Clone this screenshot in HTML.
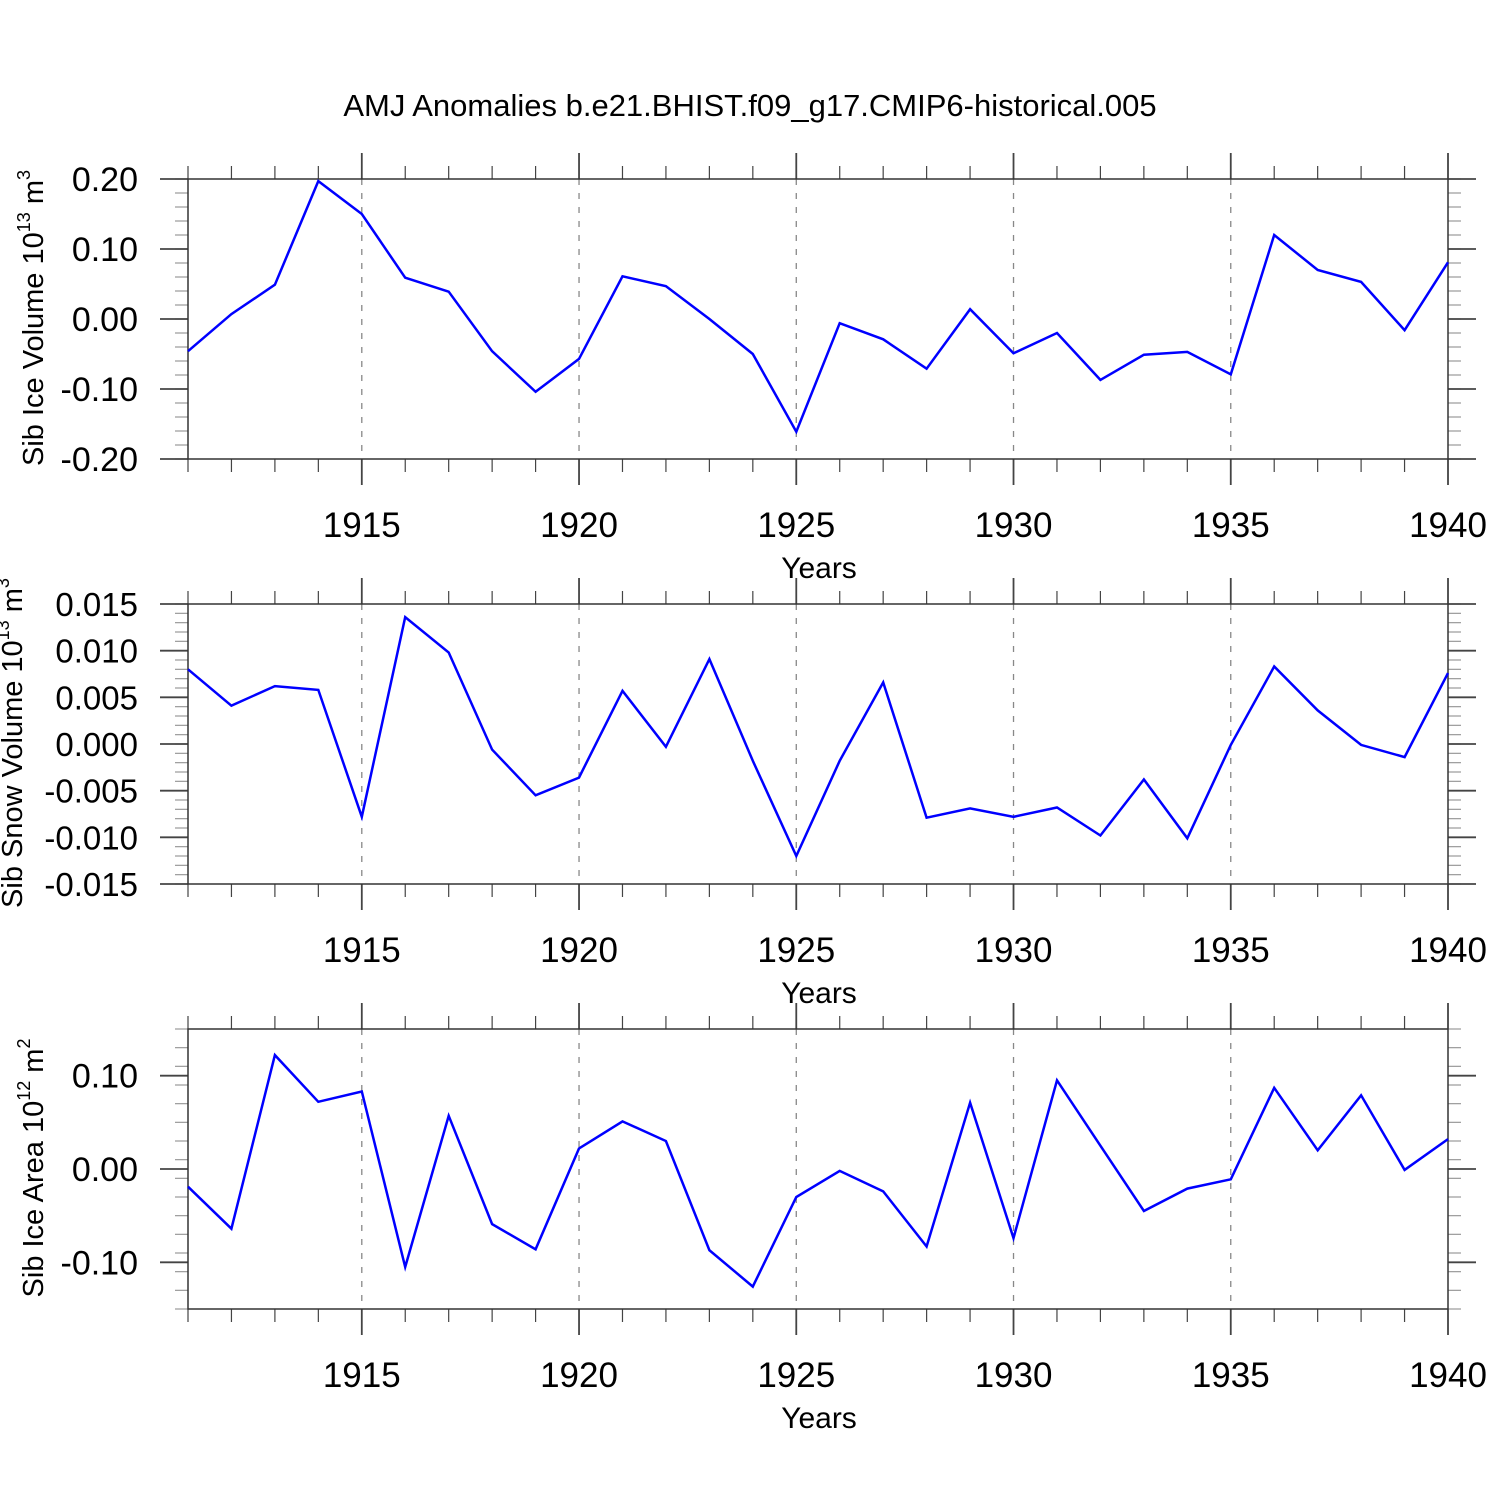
<!DOCTYPE html>
<html><head><meta charset="utf-8"><style>
body{margin:0;background:#fff}
svg{display:block;font-family:"Liberation Sans",sans-serif}
</style></head><body>
<svg id="chart" width="1500" height="1500" viewBox="0 0 1500 1500" xmlns="http://www.w3.org/2000/svg">
<text x="750" y="116" font-size="31" text-anchor="middle">AMJ Anomalies b.e21.BHIST.f09_g17.CMIP6-historical.005</text>
</svg>
<script>
const years=[1911,1912,1913,1914,1915,1916,1917,1918,1919,1920,1921,1922,1923,1924,1925,1926,1927,1928,1929,1930,1931,1932,1933,1934,1935,1936,1937,1938,1939,1940];
const iceVolume=[-0.046,0.007,0.049,0.197,0.15,0.059,0.039,-0.046,-0.104,-0.057,0.061,0.047,0.0,-0.05,-0.161,-0.006,-0.029,-0.071,0.014,-0.049,-0.02,-0.087,-0.051,-0.047,-0.079,0.12,0.07,0.053,-0.016,0.081];
const snowVolume=[0.008,0.0041,0.0062,0.0058,-0.0078,0.0136,0.0098,-0.0006,-0.0055,-0.0036,0.0057,-0.0003,0.0091,-0.0018,-0.012,-0.0018,0.0066,-0.0079,-0.0069,-0.0078,-0.0068,-0.0098,-0.0038,-0.0101,-0.0001,0.0083,0.0036,-0.0001,-0.0014,0.0076];
const iceArea=[-0.019,-0.064,0.122,0.072,0.083,-0.105,0.057,-0.059,-0.086,0.022,0.051,0.03,-0.087,-0.126,-0.03,-0.002,-0.024,-0.083,0.071,-0.074,0.095,0.025,-0.045,-0.021,-0.011,0.087,0.02,0.079,-0.001,0.032];
const xTickLabels=["1915","1920","1925","1930","1935","1940"];
const ticks1=["0.20","0.10","0.00","-0.10","-0.20"];
const ticks2=["0.015","0.010","0.005","0.000","-0.005","-0.010","-0.015"];
const ticks3=["0.10","0.00","-0.10"];

const NS="http://www.w3.org/2000/svg";
const svg=document.getElementById('chart');
const X0=188,X1=1448;
function xs(y){return X0+(y-1911)*(X1-X0)/(1940-1911);}
function mk(tag,attrs,parent){const e=document.createElementNS(NS,tag);for(const k in attrs)e.setAttribute(k,attrs[k]);(parent||svg).appendChild(e);return e;}

function panel(name,top,vmin,vmax,data,tickLabels,minorStep,title,exp,unitExp,titleX,tickFont){
  const bot=top+280;
  const g=mk('g',{});
  
  
  const ys=v=>bot-(v-vmin)/(vmax-vmin)*280;
  xTickLabels.forEach(t=>{
    const x=xs(+t);
    if(+t<1940){const l=mk('line',{x1:x,x2:x,y1:top,y2:bot,stroke:'#888','stroke-width':1.3,'stroke-dasharray':'6,8'},g);
    
    }
  });
  years.forEach(y=>{
    const x=xs(y),maj=(y%5===0),L=maj?26:13;
    mk('line',{x1:x,x2:x,y1:top-L,y2:top,stroke:'#444','stroke-width':maj?1.8:1.2},g);
    mk('line',{x1:x,x2:x,y1:bot,y2:bot+L,stroke:'#444','stroke-width':maj?1.8:1.2},g);
  });
  xTickLabels.forEach(t=>{
    const tx=mk('text',{x:xs(+t),y:bot+78,'font-size':35,'text-anchor':'middle'},g);tx.textContent=t;
    
    
  });
  const n=Math.round((vmax-vmin)/minorStep);
  for(let i=0;i<=n;i++){const v=vmin+i*minorStep,y=ys(v);
    mk('line',{x1:X0-13,x2:X0,y1:y,y2:y,stroke:'#999','stroke-width':1.2},g);
    mk('line',{x1:X1,x2:X1+13,y1:y,y2:y,stroke:'#999','stroke-width':1.2},g);}
  tickLabels.forEach(t=>{const y=ys(parseFloat(t));
    mk('line',{x1:X0-28,x2:X0,y1:y,y2:y,stroke:'#444','stroke-width':1.8},g);
    mk('line',{x1:X1,x2:X1+28,y1:y,y2:y,stroke:'#444','stroke-width':1.8},g);
    const tx=mk('text',{x:138,y:y+12,'font-size':tickFont,'text-anchor':'end'},g);tx.textContent=t;
    
    
  });
  const r=mk('rect',{x:X0,y:top,width:X1-X0,height:280,fill:'none',stroke:'#333','stroke-width':1.5},g);
  
  
  const pts=data.map((v,i)=>xs(years[i]).toFixed(1)+','+ys(v).toFixed(1)).join(' ');
  const pl=mk('polyline',{points:pts,fill:'none',stroke:'#0000ff','stroke-width':2.5,'stroke-linejoin':'miter'},g);
  
  
  const xt=mk('text',{x:819,y:bot+119,'font-size':30,'text-anchor':'middle'},g);xt.textContent='Years';
  
  
  const cy=top+139;
  const yt=mk('text',{x:0,y:0,'font-size':29,'text-anchor':'middle',transform:`translate(${titleX},${cy}) rotate(-90)`},g);
  
  
  yt.innerHTML=title+' 10<tspan dy="-13" font-size="18">'+exp+'</tspan><tspan dy="13"> m</tspan><tspan dy="-13" font-size="18">'+unitExp+'</tspan>';
}
panel('ice-volume',179,-0.2,0.2,iceVolume,ticks1,0.02,'Sib Ice Volume','13','3',43,34);
panel('snow-volume',604,-0.015,0.015,snowVolume,ticks2,0.001,'Sib Snow Volume','13','3',22,33);
panel('ice-area',1029,-0.15,0.15,iceArea,ticks3,0.02,'Sib Ice Area','12','2',43,34);
</script>
</body></html>
